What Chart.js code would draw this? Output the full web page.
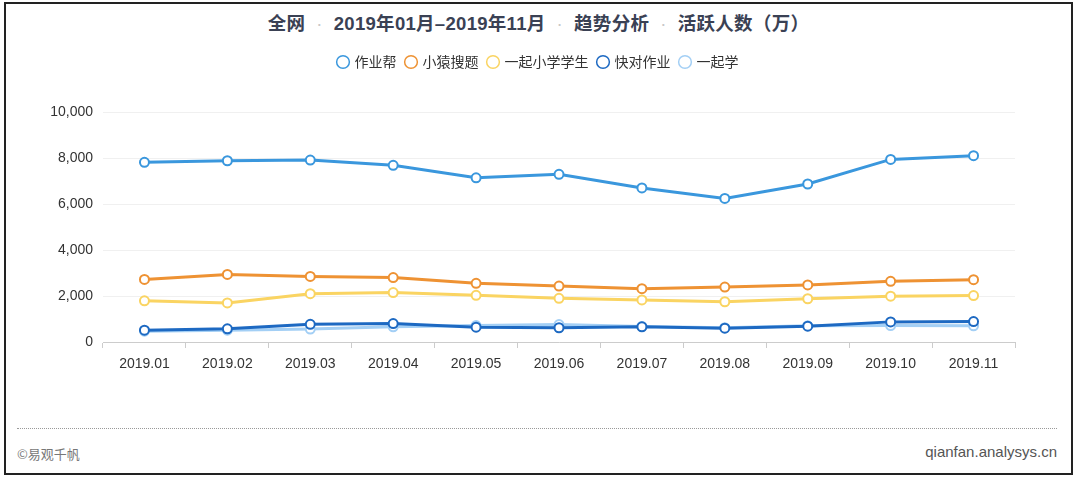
<!DOCTYPE html>
<html>
<head>
<meta charset="utf-8">
<script src="https://cdn.jsdelivr.net/npm/chart.js@4"></script>
<style>
  html, body { margin:0; padding:0; background:#fff; }
  body { width:1077px; height:479px; position:relative; overflow:hidden;
         font-family:"Helvetica Neue","Liberation Sans",Arial,"Noto Sans CJK SC",sans-serif; }
  #frame { position:absolute; left:4px; top:2px; width:1065px; height:469px; border:2px solid #222; }
  #title { position:absolute; left:0; top:9px; width:1077px; text-align:center; font-size:18.5px; font-weight:bold;
           color:#3a4154; font-family:"Liberation Sans","Noto Sans CJK SC",sans-serif; letter-spacing:0.3px; }
  #title .dot { color:#c8c8c8; font-weight:normal; margin:0 11px; }
  #wrap { position:absolute; left:0; top:40px; width:1077px; height:350px; }
  #dotline { position:absolute; left:17px; top:428px; width:1040px; border-top:1px dotted #999; }
  #fl { position:absolute; left:17px; top:444px; font-size:13px; color:#777; font-family:"Noto Sans CJK SC",sans-serif; }
  #fr { position:absolute; right:20px; top:443px; font-size:15px; color:#555; font-family:"Liberation Sans",Arial,sans-serif; }
</style>
</head>
<body>
<div id="frame"></div>
<div id="title">全网<span class="dot">·</span>2019年01月–2019年11月<span class="dot">·</span>趋势分析<span class="dot">·</span>活跃人数（万）</div>
<div id="wrap"><canvas id="c"></canvas></div>
<div id="dotline"></div>
<div id="fl">©易观千帆</div>
<div id="fr">qianfan.analysys.cn</div>
<script>
const categories = ['2019.01','2019.02','2019.03','2019.04','2019.05','2019.06','2019.07','2019.08','2019.09','2019.10','2019.11'];
const seriesNames = ['作业帮','小猿搜题','一起小学学生','快对作业','一起学'];
const zuoyebang = [7810, 7880, 7910, 7680, 7140, 7290, 6700, 6240, 6870, 7940, 8100];
const xiaoyuan = [2720, 2940, 2850, 2800, 2550, 2430, 2320, 2390, 2480, 2640, 2710];
const yiqiXiaoxue = [1790, 1700, 2100, 2150, 2030, 1900, 1830, 1750, 1880, 1990, 2020];
const kuaidui = [515, 575, 770, 800, 645, 620, 660, 600, 690, 875, 890];
const yiqixue = [470, 515, 560, 660, 715, 760, 675, 620, 705, 715, 705];
const yTicks = [0, 2000, 4000, 6000, 8000, 10000];

const colors = ['#3a97dd', '#ee9233', '#fad462', '#1d69c2', '#a3cff5'];
const values = [zuoyebang, xiaoyuan, yiqiXiaoxue, kuaidui, yiqixue];

const datasets = seriesNames.map((n, i) => ({
  label: n,
  data: values[i],
  borderColor: colors[i],
  backgroundColor: '#ffffff',
  pointBackgroundColor: '#ffffff',
  pointBorderColor: colors[i],
  pointRadius: 4.5,
  pointBorderWidth: 2,
  borderWidth: 3,
  tension: 0
}));

const legendPad = {
  id: 'legendPad',
  beforeInit(chart) {
    const orig = chart.legend.fit;
    chart.legend.fit = function () { orig.bind(chart.legend)(); this.height += 33; };
  },
  afterLayout(chart) {
    const lg = chart.legend;
    lg.left += 31; lg.right += 31;
    if (lg.legendHitBoxes) lg.legendHitBoxes.forEach(b => { b.left += 31; });
  }
};

new Chart(document.getElementById('c'), {
  type: 'line',
  data: { labels: categories, datasets },
  plugins: [legendPad],
  options: {
    responsive: true,
    maintainAspectRatio: false,
    animation: false,
    layout: { padding: { top: 5, right: 62, left: 0, bottom: 0 } },
    plugins: {
      tooltip: { enabled: false },
      legend: {
        position: 'top',
        labels: {
          usePointStyle: true,
          pointStyle: 'circle',
          boxWidth: 9,
          boxHeight: 9,
          padding: 10,
          color: '#333',
          font: { size: 14, family: '"Noto Sans CJK SC","Liberation Sans",sans-serif' },
          generateLabels(chart) {
            const items = Chart.defaults.plugins.legend.labels.generateLabels(chart);
            items.forEach(it => { it.lineWidth = 1.5; it.fillStyle = '#ffffff'; });
            return items;
          }
        }
      }
    },
    scales: {
      x: {
        offset: true,
        afterFit(s) { s.height = 48; },
        grid: { display: true, drawOnChartArea: false, drawTicks: true, tickLength: 6, color: '#cccccc', offset: true },
        border: { color: '#cccccc', width: 1 },
        ticks: { color: '#333', padding: 8, font: { size: 14, family: '"Helvetica Neue","Liberation Sans",Arial,sans-serif' }, maxRotation: 0 }
      },
      y: {
        min: 0, max: 10000,
        afterFit(s) { s.width = 103; },
        afterBuildTicks(s) { s.ticks = yTicks.map(v => ({ value: v })); },
        grid: { color: '#f0f0f0', drawTicks: false },
        border: { display: false },
        ticks: {
          color: '#333', padding: 10,
          font: { size: 14, family: '"Helvetica Neue","Liberation Sans",Arial,sans-serif' },
          callback: v => v.toLocaleString('en-US')
        }
      }
    }
  }
});
</script>
</body>
</html>
